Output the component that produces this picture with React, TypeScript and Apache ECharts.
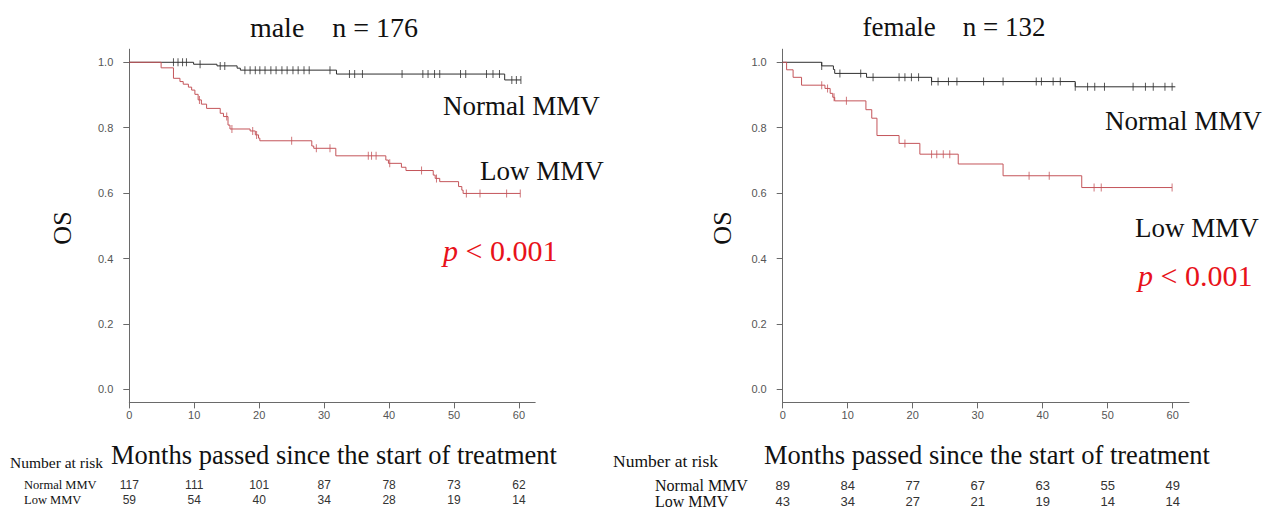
import React, { useEffect, useRef } from 'react';
import * as echarts from 'echarts';

// ---- axis ticks ----
const xTicks = [0, 10, 20, 30, 40, 50, 60];
const yTicks = [0, 0.2, 0.4, 0.6, 0.8, 1.0];

// ---- male: Normal MMV (time of step, survival after step) ----
const maleNormalT = [0, 9.9, 13.5, 16.6, 17.1, 31.9, 57.8, 60.3];
const maleNormalS = [1.0, 0.994, 0.989, 0.982, 0.976, 0.964, 0.946, 0.946];
const maleNormalCensor = [6.8, 7.5, 8.2, 8.8, 10.9, 14.0, 14.7, 17.8, 18.6, 19.4, 20.1, 20.9, 21.8, 22.6, 23.5, 24.3, 25.2, 26.0, 26.9, 27.7, 30.9, 33.9, 34.7, 35.9, 42.0, 45.2, 46.0, 47.0, 47.8, 51.0, 51.8, 55.0, 56.0, 57.0, 58.9, 59.6, 60.3];

// ---- male: Low MMV ----
const maleLowT = [0, 4.9, 6.8, 7.8, 8.3, 9.1, 9.6, 10.1, 10.6, 11.1, 11.9, 14.0, 14.5, 15.2, 15.5, 18.6, 19.4, 19.9, 20.1, 28.1, 28.4, 31.8, 39.5, 39.9, 41.9, 42.6, 46.8, 47.1, 47.8, 50.7, 51.2, 51.4, 60.2];
const maleLowS = [1.0, 0.983, 0.951, 0.941, 0.933, 0.924, 0.915, 0.902, 0.885, 0.872, 0.859, 0.844, 0.834, 0.808, 0.796, 0.79, 0.778, 0.768, 0.76, 0.744, 0.737, 0.714, 0.701, 0.691, 0.679, 0.669, 0.655, 0.645, 0.635, 0.62, 0.609, 0.599, 0.599];
const maleLowCensor = [10.8, 15.0, 15.8, 19.0, 19.6, 25.0, 28.8, 30.9, 36.8, 37.3, 38.0, 40.1, 45.0, 47.3, 51.9, 54.0, 58.1, 60.2];

// ---- female: Normal MMV ----
const femaleNormalT = [0, 6.0, 7.8, 8.0, 12.9, 22.9, 45.0, 60.4];
const femaleNormalS = [1.0, 0.989, 0.978, 0.966, 0.954, 0.941, 0.925, 0.925];
const femaleNormalCensor = [6.0, 8.8, 12.0, 13.9, 17.9, 18.8, 19.8, 20.9, 22.9, 23.9, 25.5, 26.8, 30.9, 33.9, 39.0, 39.8, 41.6, 42.7, 45.0, 46.9, 48.0, 49.5, 53.9, 55.8, 57.0, 58.8, 59.9];

// ---- female: Low MMV ----
const femaleLowT = [0, 0.6, 1.6, 2.9, 6.5, 7.3, 7.7, 8.0, 12.8, 13.7, 14.5, 17.9, 21.1, 27.0, 33.9, 46.0, 59.9];
const femaleLowS = [1.0, 0.977, 0.954, 0.93, 0.92, 0.905, 0.893, 0.882, 0.855, 0.829, 0.776, 0.752, 0.719, 0.689, 0.653, 0.617, 0.617];
const femaleLowCensor = [6.0, 6.9, 7.9, 9.8, 18.8, 22.9, 23.7, 24.7, 25.7, 37.9, 41.0, 47.9, 49.0, 59.9];

// ---- number at risk ----
const maleRiskNormal = [117, 111, 101, 87, 78, 73, 62];
const maleRiskLow = [59, 54, 40, 34, 28, 19, 14];
const femaleRiskNormal = [89, 84, 77, 67, 63, 55, 49];
const femaleRiskLow = [43, 34, 27, 21, 19, 14, 14];

const BLACK = '#2e2e2e';
const RED = '#c4555a';
const SERIF = '"Liberation Serif", "Times New Roman", serif';
const SANS = '"Liberation Sans", Arial, sans-serif';

function stepData(T: number[], S: number[]) {
  return T.map((t, i) => [t, S[i]]);
}
function censorData(T: number[], S: number[], C: number[]) {
  return C.map((c) => {
    let v = S[0];
    for (let i = 0; i < T.length; i++) if (T[i] <= c) v = S[i];
    return [c, v];
  });
}

export default function App() {
  const ref = useRef<HTMLDivElement>(null);
  useEffect(() => {
    document.body.style.margin = '0';
    if (!ref.current) return;
    const chart = echarts.init(ref.current, undefined, { renderer: 'svg' });

    const grids = [
      { left: 129.3, top: 49.2, width: 405.9, height: 353.2 },
      { left: 782.7, top: 49.2, width: 406.3, height: 353.2 },
    ];
    const axisColor = '#6a6a6a';
    const xAxes = grids.map((_, gi) => ({
      type: 'value', gridIndex: gi, min: 0, max: 62.5,
      axisLine: { show: true, onZero: false, lineStyle: { color: axisColor, width: 1 } },
      axisTick: { show: true, length: 6, customValues: xTicks, lineStyle: { color: axisColor } },
      axisLabel: { customValues: xTicks, color: '#555', fontSize: 11, fontFamily: SANS, margin: 7 },
      splitLine: { show: false },
    }));
    const yAxes = grids.map((_, gi) => ({
      type: 'value', gridIndex: gi, min: -0.04, max: 1.04,
      axisLine: { show: true, onZero: false, lineStyle: { color: axisColor, width: 1 } },
      axisTick: { show: true, length: 6, customValues: yTicks, lineStyle: { color: axisColor } },
      axisLabel: { customValues: yTicks, color: '#555', fontSize: 11, fontFamily: SANS, margin: 16, formatter: (v: number) => v.toFixed(1) },
      splitLine: { show: false },
    }));

    const lineSeries = (name: string, gi: number, T: number[], S: number[], color: string) => ({
      name, type: 'line', xAxisIndex: gi, yAxisIndex: gi, step: 'end', symbol: 'none',
      data: stepData(T, S), lineStyle: { color, width: 1 }, z: 2,
    });
    const censorSeries = (name: string, gi: number, T: number[], S: number[], C: number[], color: string) => ({
      name, type: 'scatter', xAxisIndex: gi, yAxisIndex: gi, symbol: 'rect', symbolSize: [1, 8],
      data: censorData(T, S, C), itemStyle: { color }, z: 3,
    });

    const txt = (text: string, x: number, y: number, size: number, opts: any = {}) => ({
      type: 'text', x, y, silent: true,
      style: { text, fill: opts.fill || '#111', font: `${opts.style || 'normal'} ${size}px ${opts.family || SERIF}`, textAlign: opts.align || 'left', textVerticalAlign: 'middle' },
      rotation: opts.rotation || 0,
    });

    const pRich = (x: number, y: number) => ({
      type: 'text', x, y, silent: true,
      style: {
        text: '{i|p} < 0.001', fill: '#e8121a', font: `30px ${SERIF}`, textVerticalAlign: 'middle',
        rich: { i: { fontStyle: 'italic', fontSize: 30, fontFamily: SERIF, fill: '#e8121a' } },
      },
    });

    const riskTexts: any[] = [];
    const addRisk = (gi: number, vals: number[], y: number, size: number) => {
      const g = grids[gi];
      vals.forEach((v, i) => {
        const x = g.left + (xTicks[i] / 62.5) * g.width;
        riskTexts.push(txt(String(v), x, y, size, { family: SANS, align: 'center', fill: '#333' }));
      });
    };
    addRisk(0, maleRiskNormal, 485, 12);
    addRisk(0, maleRiskLow, 500, 12);
    addRisk(1, femaleRiskNormal, 485, 13);
    addRisk(1, femaleRiskLow, 501, 13);

    chart.setOption({
      animation: false,
      backgroundColor: '#fff',
      grid: grids,
      xAxis: xAxes,
      yAxis: yAxes,
      series: [
        lineSeries('male Normal MMV', 0, maleNormalT, maleNormalS, BLACK),
        lineSeries('male Low MMV', 0, maleLowT, maleLowS, RED),
        censorSeries('male Normal censored', 0, maleNormalT, maleNormalS, maleNormalCensor, BLACK),
        censorSeries('male Low censored', 0, maleLowT, maleLowS, maleLowCensor, RED),
        lineSeries('female Normal MMV', 1, femaleNormalT, femaleNormalS, BLACK),
        lineSeries('female Low MMV', 1, femaleLowT, femaleLowS, RED),
        censorSeries('female Normal censored', 1, femaleNormalT, femaleNormalS, femaleNormalCensor, BLACK),
        censorSeries('female Low censored', 1, femaleLowT, femaleLowS, femaleLowCensor, RED),
      ],
      graphic: [
        txt('male    n = 176', 334, 27, 28, { align: 'center' }),
        txt('female    n = 132', 954, 27, 27, { align: 'center' }),
        txt('OS', 62, 228, 26, { align: 'center', rotation: Math.PI / 2 }),
        txt('OS', 722, 228, 26, { align: 'center', rotation: Math.PI / 2 }),
        txt('Normal MMV', 443, 106, 27),
        txt('Low MMV', 480, 171, 27),
        pRich(443, 250),
        txt('Normal MMV', 1105, 121, 27),
        txt('Low MMV', 1135, 228, 27),
        pRich(1138, 275),
        txt('Months passed since the start of treatment', 334, 455, 26.5, { align: 'center' }),
        txt('Months passed since the start of treatment', 987, 455, 26.5, { align: 'center' }),
        txt('Number at risk', 10, 462, 15.5),
        txt('Number at risk', 613, 461, 17.5),
        txt('Normal MMV', 24, 485, 12.5),
        txt('Low MMV', 24, 500, 12.5),
        txt('Normal MMV', 655, 485, 16),
        txt('Low MMV', 655, 501, 16),
        ...riskTexts,
      ],
    });
    return () => chart.dispose();
  }, []);
  return <div ref={ref} style={{ width: 1283, height: 510 }} />;
}
